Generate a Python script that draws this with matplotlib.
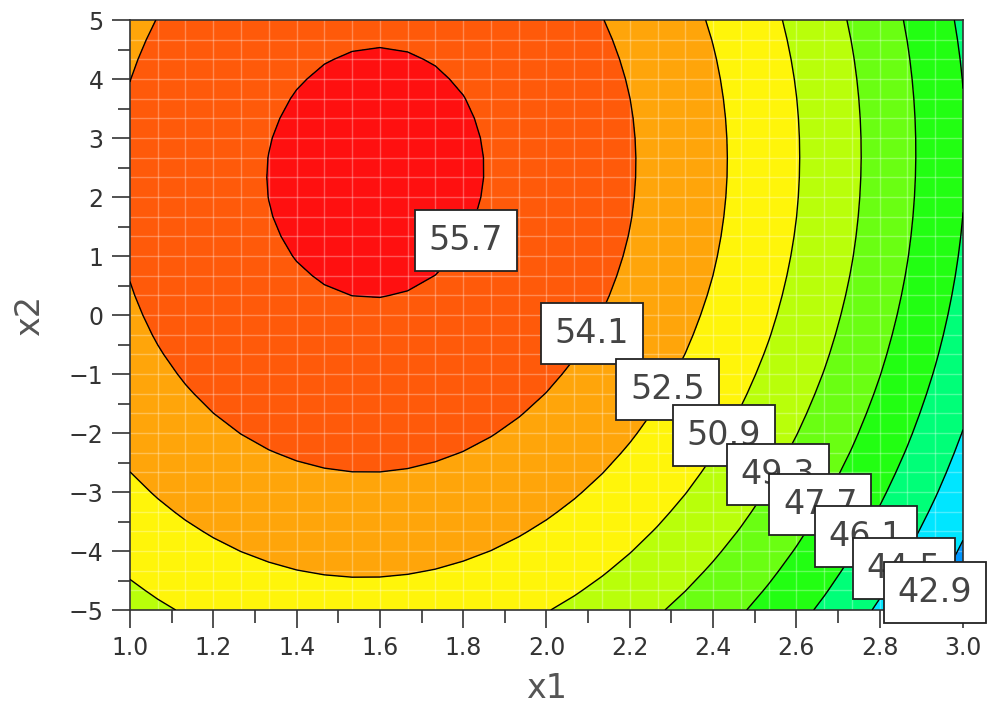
import numpy as np
import matplotlib
matplotlib.use("Agg")
from matplotlib import pyplot as plt
from matplotlib.ticker import MultipleLocator, FormatStrFormatter

# fitted second-order response surface: y = b0 + b1*x1 + b2*x2 + b11*x1^2 + b22*x2^2 + b12*x1*x2
b0 = 43.22
b1 = 15.673
b2 = 0.2996
b11 = -4.96
b22 = -0.0752
b12 = 0.04

# design region, evaluated on a 31 x 31 mesh
x1_values = np.linspace(1.0, 3.0, 31)
x2_values = np.linspace(-5.0, 5.0, 31)

# contour levels and the spots where their value boxes sit
levels = [42.9, 44.5, 46.1, 47.7, 49.3, 50.9, 52.5, 54.1, 55.7]
label_x1 = [2.933, 2.858, 2.767, 2.657, 2.556, 2.426, 2.290, 2.109, 1.807]
label_x2 = [-4.71, -4.29, -3.75, -3.22, -2.71, -2.05, -1.27, -0.305, 1.27]

band_colors = ['#0096FF', '#00E6FF', '#00FF78', '#22FF12', '#6AFF12',
               '#B9FF0A', '#FFF50A', '#FFA50A', '#FF5A0A', '#FF1010']

X1, X2 = np.meshgrid(x1_values, x2_values)
Z = b0 + b1 * X1 + b2 * X2 + b11 * X1 ** 2 + b22 * X2 ** 2 + b12 * X1 * X2

plt.rcParams['font.family'] = ['DejaVu Sans Condensed', 'Liberation Sans Narrow', 'DejaVu Sans']

fig = plt.figure(figsize=(9.92, 7.18), dpi=100)
ax = fig.add_axes([0.131, 0.1504, 0.8398, 0.8217])

bounds = [Z.min() - 1] + levels + [Z.max() + 1]
ax.contourf(X1, X2, Z, levels=bounds, colors=band_colors)

# faint mesh lines
for v in x1_values[1:-1]:
    ax.axvline(v, color='white', alpha=0.3, lw=1.0, zorder=2)
for v in x2_values[1:-1]:
    ax.axhline(v, color='white', alpha=0.3, lw=1.0, zorder=2)

ax.contour(X1, X2, Z, levels=levels, colors='black', linewidths=1.0, zorder=3)

# value boxes, lowest level drawn last so it ends up on top
for i in range(len(levels) - 1, -1, -1):
    ax.text(label_x1[i], label_x2[i], '%.1f' % levels[i], family='DejaVu Sans',
            fontsize=24, color='#444444', ha='center', va='center',
            zorder=10 + (len(levels) - i), clip_on=False,
            bbox=dict(boxstyle='square,pad=0.42', fc='white', ec='#222222', lw=1.3))

ax.set_xlim(1.0, 3.0)
ax.set_ylim(-5.0, 5.0)
ax.xaxis.set_major_locator(MultipleLocator(0.2))
ax.xaxis.set_minor_locator(MultipleLocator(0.1))
ax.xaxis.set_major_formatter(FormatStrFormatter('%.1f'))
ax.yaxis.set_major_locator(MultipleLocator(1))
ax.yaxis.set_minor_locator(MultipleLocator(0.5))
ax.tick_params(which='major', direction='out', length=13, width=1.2, color='#333333',
               labelsize=17, labelcolor='#333333', pad=6)
ax.tick_params(which='minor', direction='out', length=9, width=1.2, color='#333333')
for s in ax.spines.values():
    s.set_color('#333333')
    s.set_linewidth(1.2)

ax.set_xlabel('x1', fontsize=24, color='#555555', labelpad=8)
ax.set_ylabel('x2', fontsize=24, color='#555555', labelpad=16)

fig.savefig('out.png', dpi=100)
